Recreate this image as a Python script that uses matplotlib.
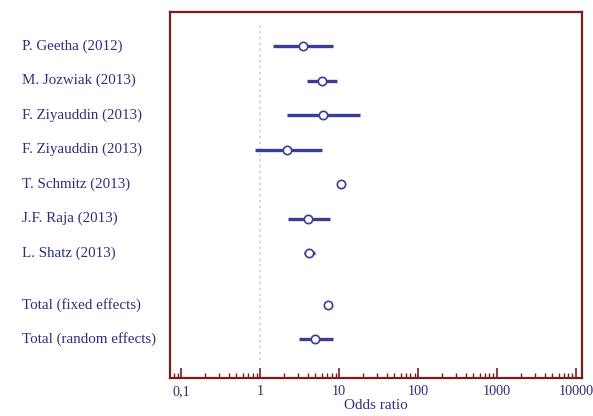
import matplotlib
matplotlib.use("Agg")
import matplotlib.pyplot as plt
import matplotlib.transforms as mtransforms
from matplotlib.ticker import LogLocator, FixedLocator, NullFormatter

studies = ["P. Geetha (2012)", "M. Jozwiak (2013)", "F. Ziyauddin (2013)",
           "F. Ziyauddin (2013)", "T. Schmitz (2013)", "J.F. Raja (2013)",
           "L. Shatz (2013)", "Total (fixed effects)", "Total (random effects)"]
odds = [3.5, 6.1, 6.2, 2.2, 10.4, 4.0, 4.2, 7.2, 5.0]
lower = [1.46, 3.9, 2.2, 0.85, 9.3, 2.24, 3.6, 6.6, 3.06]
upper = [8.4, 9.5, 18.2, 6.1, 11.6, 7.6, 5.0, 7.9, 8.4]
rows = [0, 1, 2, 3, 4, 5, 6, 7.5, 8.5]
tick_vals = [0.1, 1, 10, 100, 1000, 10000]
tick_labels = ["0,1", "1", "10", "100", "1000", "10000"]

frame_c = "#7a1c1c"
line_c = "#3a3d96"
text_c = "#2f2f78"
plt.rcParams["font.family"] = ["Liberation Serif", "DejaVu Serif"]

fig = plt.figure(figsize=(5.93, 4.16), dpi=100)
ax = fig.add_axes([170/593, 1-378/416, 412/593, 366/416])
ax.set_xscale("log")
ax.set_xlim(0.072, 11900)
ax.set_ylim(9.62, -0.986)

ax.vlines(1, -0.6, 9.2, colors="#d0d0d0", linestyles=(0, (1.5, 2)), linewidth=1.2)

for r, o, lo, hi in zip(rows, odds, lower, upper):
    ax.plot([lo, hi], [r, r], color=line_c, linewidth=2.4, solid_capstyle="butt", zorder=2)
    ax.plot([o], [r], marker="o", markersize=6, markerfacecolor="white",
            markeredgecolor=line_c, markeredgewidth=1.2, zorder=3)

trans = mtransforms.blended_transform_factory(fig.transFigure, ax.transData)
for r, s in zip(rows, studies):
    ax.text(22/593, r, s, transform=trans, ha="left", va="center",
            fontsize=10.8, color=text_c)

for sp in ax.spines.values():
    sp.set_color(frame_c)
    sp.set_linewidth(1.6)

ax.xaxis.set_major_locator(FixedLocator(tick_vals))
ax.set_xticklabels(tick_labels)
ax.xaxis.set_minor_locator(LogLocator(base=10, subs=range(2, 10), numticks=20))
ax.xaxis.set_minor_formatter(NullFormatter())
ax.tick_params(axis="x", which="major", direction="in", length=7, width=1.2,
               color=frame_c, labelcolor=text_c, labelsize=10.3, pad=5)
ax.tick_params(axis="x", which="minor", direction="in", length=3.5, width=1.0,
               color=frame_c)
ax.set_yticks([])
ax.set_xlabel("Odds ratio", fontsize=11, color=text_c, labelpad=1)

fig.savefig("out.png", dpi=100)
